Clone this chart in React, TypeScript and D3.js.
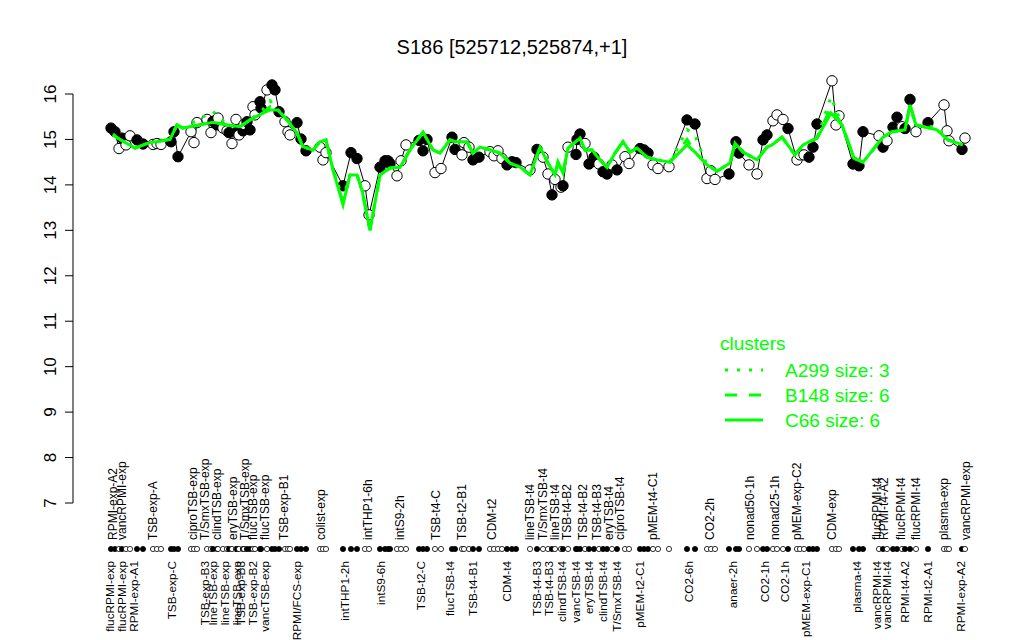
import React from "react";
import * as d3 from "d3";

// sample positions (ordered) and expression values
const samplePos = [2.2,3.0,3.8,4.4,5.2,6.0,7.4,8.6,10.6,11.4,12.2,14.2,14.8,15.6,18.2,18.8,19.4,21.4,22.2,22.6,23.4,23.6,24.6,25.4,25.8,26.4,27.2,27.4,27.8,28.6,28.8,29.4,30.0,30.6,31.0,32.0,32.2,33.4,34.4,35.0,35.8,37.0,37.6,38.0,39.4,40.2,41.2,44.0,44.6,45.2,48.6,50.2,51.4,53.0,53.8,56.0,57.0,57.6,58.0,59.4,60.2,61.2,63.8,64.6,65.4,67.0,68.2,70.4,71.0,72.4,72.8,73.8,74.6,75.8,78.0,78.8,79.6,80.4,81.4,82.4,83.2,86.0,87.4,88.6,89.6,90.4,91.0,92.2,92.6,93.6,95.2,95.4,96.0,97.0,97.8,98.8,99.8,100.6,101.4,102.4,103.4,105.0,105.8,108.0,108.8,109.6,110.6,111.6,113.8,117.4,119.0,121.4,122.2,123.0,125.8,127.2,127.8,129.8,131.4,132.6,133.4,134.6,135.4,136.6,137.6,139.4,140.0,140.8,141.8,142.6,143.4,146.4,147.2,147.8,150.6,151.8,152.6,155.8,156.6,157.4,158.6,159.4,160.4,161.0,162.0,163.2,165.6,168.8,169.4,169.8,172.4,173.0];
const sampleVal = [15.25,15.17,14.80,15.03,14.88,15.08,14.99,14.90,14.89,14.91,14.89,14.95,15.17,14.62,15.17,14.93,15.37,15.44,15.15,15.40,15.32,15.47,15.25,15.19,15.15,14.91,15.44,15.17,15.10,15.19,15.33,15.39,15.21,15.72,15.54,15.83,15.69,16.09,16.20,16.09,15.61,15.39,15.17,15.10,15.37,15.01,14.75,14.83,14.55,14.71,13.98,14.71,14.58,13.98,13.34,14.39,14.53,14.53,14.47,14.20,14.53,14.88,14.98,14.75,15.00,14.27,14.36,15.05,14.78,14.66,14.93,14.83,14.55,14.61,14.73,14.64,14.75,14.58,14.44,14.51,14.49,14.33,14.78,14.61,14.24,13.78,14.12,13.95,13.98,14.83,14.67,15.00,15.12,14.91,14.46,14.61,14.46,14.29,14.24,14.44,14.33,14.62,14.47,14.80,14.77,14.70,14.44,14.36,14.40,15.43,15.34,14.14,14.31,14.12,14.24,14.95,14.70,14.44,14.24,14.99,15.10,15.41,15.54,15.44,15.24,14.55,14.66,14.66,14.61,14.83,15.34,16.29,15.32,15.52,14.46,14.42,15.17,15.08,14.83,14.97,15.27,15.49,15.28,15.24,15.88,15.17,15.37,15.76,15.19,14.97,14.78,15.03];
// 1 = filled, 0 = open
const sampleFilled = [1,1,0,1,0,0,1,1,0,0,0,1,1,1,0,0,0,0,0,1,1,0,0,0,1,0,0,1,0,1,0,1,1,0,0,1,1,0,1,1,1,0,0,0,1,1,1,0,0,0,1,1,1,0,0,1,1,1,1,0,0,0,1,1,1,0,0,1,1,0,0,0,1,1,0,0,0,0,1,1,1,0,1,0,0,1,0,0,1,0,1,1,1,0,1,1,0,1,1,0,1,0,0,1,1,1,0,0,0,1,1,0,0,0,1,1,1,0,0,1,1,0,0,0,1,0,0,0,1,1,1,0,0,0,1,1,1,0,1,0,1,1,0,1,1,0,1,0,0,0,1,0];

// cluster mean lines
const clusterPos = [2.6,4.0,7.0,9.6,14.0,15.4,16.6,22.6,25.4,28.0,30.0,32.6,34.0,35.6,37.4,39.4,40.6,42.6,44.0,45.2,46.6,48.6,50.0,51.4,52.4,54.0,56.0,58.0,60.0,62.0,64.6,66.6,68.0,70.0,71.0,73.4,74.6,76.0,78.0,80.0,82.0,84.0,86.0,88.0,89.6,91.0,91.6,92.6,93.6,96.0,97.0,98.4,100.0,101.4,103.0,104.6,106.0,107.4,109.4,111.4,114.0,117.4,119.0,121.4,123.4,126.0,127.0,128.6,131.4,133.4,134.4,136.4,139.0,140.6,143.4,146.2,148.4,150.8,152.6,156.6,158.4,161.0,162.0,163.2,167.4,169.6,172.6];
const c66Val = [15.10,15.00,14.81,14.92,15.00,15.32,15.25,15.38,15.32,15.28,15.43,15.58,15.65,15.65,15.43,15.14,14.84,14.77,14.95,14.99,14.33,13.56,14.22,14.22,13.89,13.00,14.22,14.37,14.39,14.77,15.16,14.77,14.70,14.99,14.95,14.95,14.70,14.83,14.77,14.70,14.48,14.39,14.22,14.83,14.48,14.22,14.50,14.26,14.81,15.03,14.77,14.77,14.55,14.39,14.70,14.95,14.72,14.81,14.61,14.55,14.50,14.88,14.72,14.44,14.30,14.48,14.92,14.72,14.55,14.83,14.88,15.05,14.66,14.88,15.03,15.58,15.32,14.59,14.50,15.05,15.17,15.21,15.76,15.32,15.21,14.99,14.88];
const a299Val = [15.12,15.00,14.81,14.92,15.00,15.32,15.25,15.62,15.32,15.28,15.43,15.66,15.85,15.65,15.43,15.14,14.84,14.77,14.95,14.99,14.33,13.70,14.22,14.22,13.89,13.00,14.22,14.37,14.39,14.77,15.16,14.77,14.70,14.99,14.95,14.95,14.70,14.83,14.77,14.70,14.48,14.39,14.22,14.83,14.48,14.22,14.50,14.26,14.81,15.03,14.77,14.77,14.55,14.39,14.70,14.95,14.72,14.81,14.61,14.55,14.50,15.22,15.08,14.44,14.30,14.48,14.92,14.72,14.55,14.83,14.88,15.05,14.66,14.88,15.03,15.94,15.32,14.59,14.50,15.05,15.17,15.21,15.70,15.32,15.27,14.99,14.88];
const b148Val = [15.10,15.00,14.81,14.92,15.00,15.32,15.25,15.38,15.32,15.28,15.43,15.58,15.72,15.65,15.43,15.14,14.84,14.77,14.95,14.99,14.33,13.62,14.22,14.22,13.89,13.00,14.22,14.37,14.39,14.77,15.16,14.77,14.70,14.99,14.95,14.95,14.70,14.83,14.77,14.70,14.48,14.39,14.22,14.83,14.48,14.22,14.50,14.26,14.81,15.03,14.77,14.77,14.55,14.39,14.70,14.95,14.72,14.81,14.61,14.55,14.50,15.00,14.72,14.44,14.30,14.48,14.92,14.72,14.55,14.83,14.88,15.05,14.66,14.88,15.03,15.72,15.32,14.59,14.50,15.05,15.17,15.21,15.76,15.32,15.21,14.99,14.88];

const upperLabels = ["RPMI-exp-A2","vancRPMI-exp","TSB-exp-A","ciproTSB-exp","T/SmxTSB-exp","clindTSB-exp","eryTSB-exp","T/SmxTSB-exp","flucTSB-exp","flucTSB-exp","TSB-exp-B1","colist-exp","intTHP1-6h","intS9-2h","TSB-t4-C","TSB-t2-B1","CDM-t2","lineTSB-t4","T/SmxTSB-t4","lineTSB-t4","TSB-t4-B2","TSB-t4-B2","TSB-t4-B3","eryTSB-t4","ciproTSB-t4","pMEM-t4-C1","CO2-2h","nonad50-1h","nonad25-1h","pMEM-exp-C2","CDM-exp","flucRPMI-t4","RPMI-t4-A2","flucRPMI-t4","flucRPMI-t4","plasma-exp","vancRPMI-exp"];
const upperPos = [2.6,4.4,10.6,18.6,21.0,23.4,26.6,29.0,30.6,33.0,36.8,44.2,53.6,60.0,67.2,72.4,78.4,86.0,88.6,91.0,93.4,96.6,99.4,101.8,104.0,110.6,122.0,130.0,135.0,139.4,146.4,155.4,156.8,160.2,163.2,168.8,173.2];
const lowerLabels = ["flucRPMI-exp","flucRPMI-exp","RPMI-exp-A1","TSB-exp-C","TSB-exp-B3","lineTSB-exp","lineTSB-exp","lineTSB-exp","TSB-exp-B3","TSB-exp-B2","vancTSB-exp","RPMI/FCS-exp","intTHP1-2h","intS9-6h","TSB-t2-C","flucTSB-t4","TSB-t4-B1","CDM-t4","TSB-t4-B3","TSB-t4-B3","clindTSB-t4","vancTSB-t4","eryTSB-t4","clindTSB-t4","T/SmxTSB-t4","pMEM-t2-C1","CO2-6h","anaer-2h","CO2-1h","CO2-1h","pMEM-exp-C1","plasma-t4","vancRPMI-t4","vancRPMI-t4","RPMI-t4-A2","RPMI-t2-A1","RPMI-exp-A2"];
const lowerPos = [2.0,4.4,6.8,14.4,21.0,22.6,25.0,27.4,28.2,30.6,33.0,39.4,49.0,56.2,64.2,70.0,74.6,81.4,87.4,89.8,92.4,95.2,97.8,100.6,103.4,108.0,117.8,126.6,133.0,137.0,141.2,151.4,155.4,157.4,161.0,165.6,172.2];

const yTicks = [7, 8, 9, 10, 11, 12, 13, 14, 15, 16];
const legendItems = ["A299 size: 3", "B148 size: 6", "C66 size: 6"];
const legendDash = ["3 9", "12 12", null];

const FONT = "'Liberation Sans', Arial, Helvetica, sans-serif";
const GREEN = "#00ff00";

export default function App() {
  const x = d3.scaleLinear().domain([0, 174]).range([100, 970]);
  const y = d3.scaleLinear().domain([7, 16]).range([503, 94]);
  const pts = samplePos.map((p, i) => ({ p, v: sampleVal[i], f: sampleFilled[i] }));
  const line = d3.line<{ p: number; v: number }>().x(d => x(d.p)).y(d => y(d.v));
  const mk = (vs: number[]) => clusterPos.map((p, i) => ({ p, v: vs[i] }));
  const dotY = 549;
  return (
    <svg width={1024} height={640} style={{ position: "absolute", left: 0, top: 0, background: "#fff" }} fontFamily={FONT}>
      <text x={512} y={54} textAnchor="middle" fontSize={20}>S186 [525712,525874,+1]</text>
      {/* y axis */}
      <line x1={73} x2={73} y1={y(7)} y2={y(16)} stroke="#000" />
      {yTicks.map(t => (
        <g key={t}>
          <line x1={65} x2={73} y1={y(t)} y2={y(t)} stroke="#000" />
          <text transform={`translate(56,${y(t)}) rotate(-90)`} textAnchor="middle" fontSize={17}>{t}</text>
        </g>
      ))}
      {/* sample line + points */}
      <path d={line(pts) || ""} fill="none" stroke="#000" strokeWidth={1} />
      {pts.map((d, i) => (
        <circle key={i} cx={x(d.p)} cy={y(d.v)} r={5.2} fill={d.f ? "#000" : "#fff"} stroke="#000" strokeWidth={1} />
      ))}
      {/* cluster lines */}
      <path d={line(mk(a299Val)) || ""} fill="none" stroke={GREEN} strokeWidth={3} strokeDasharray="3 9" />
      <path d={line(mk(b148Val)) || ""} fill="none" stroke={GREEN} strokeWidth={3} strokeDasharray="12 12" />
      <path d={line(mk(c66Val)) || ""} fill="none" stroke={GREEN} strokeWidth={3} />
      {/* sample marker row */}
      {pts.map((d, i) => (
        <circle key={"r" + i} cx={x(d.p)} cy={dotY} r={2.6} fill={d.f ? "#000" : "#fff"} stroke="#000" strokeWidth={0.8} />
      ))}
      {upperLabels.map((l, i) => (
        <text key={"u" + i} transform={`translate(${x(upperPos[i])},540) rotate(-90)`} dy="0.35em" textAnchor="start" fontSize={12}>{l}</text>
      ))}
      {lowerLabels.map((l, i) => (
        <text key={"l" + i} transform={`translate(${x(lowerPos[i])},561) rotate(-90)`} dy="0.35em" textAnchor="end" fontSize={11.8}>{l}</text>
      ))}
      {/* legend */}
      <text x={720} y={350} fontSize={19} fill={GREEN}>clusters</text>
      {legendItems.map((t, i) => (
        <g key={t}>
          <line x1={725} x2={763} y1={370 + i * 25} y2={370 + i * 25} stroke={GREEN} strokeWidth={3} strokeDasharray={legendDash[i] || undefined} />
          <text x={785} y={377 + i * 25} fontSize={19} fill={GREEN}>{t}</text>
        </g>
      ))}
    </svg>
  );
}
